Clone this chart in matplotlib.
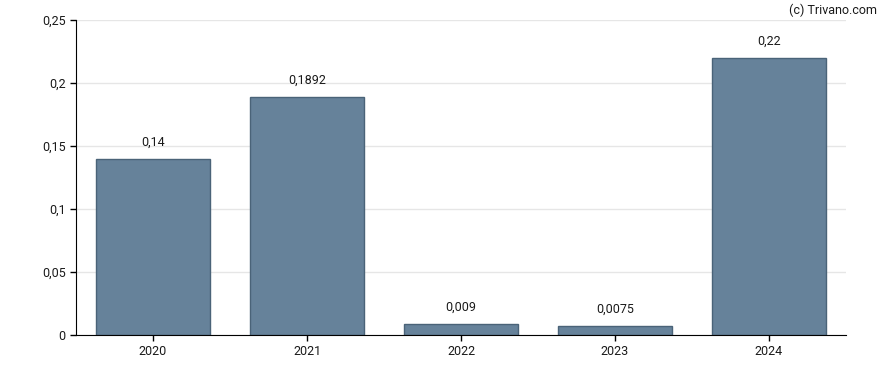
import matplotlib.pyplot as plt

plt.rcParams['font.family'] = ['Roboto', 'DejaVu Sans']

years = ['2020', '2021', '2022', '2023', '2024']
values = [0.14, 0.1892, 0.009, 0.0075, 0.22]
value_labels = ['0,14', '0,1892', '0,009', '0,0075', '0,22']
y_ticks = [0, 0.05, 0.1, 0.15, 0.2, 0.25]
y_tick_labels = ['0', '0,05', '0,1', '0,15', '0,2', '0,25']

fig = plt.figure(figsize=(8.88, 3.70), dpi=100)
ax = fig.add_axes([0.0856, 0.0946, 0.8671, 0.8514])

x = range(len(years))
ax.bar(x, values, width=0.745, color='#66829a', edgecolor='#4a6378', linewidth=1, zorder=2)

# value labels above bars
for i, (v, lab) in enumerate(zip(values, value_labels)):
    ax.annotate(lab, (i, v), xytext=(0, 7), textcoords='offset points',
                ha='center', va='bottom', fontsize=9, color='#1a1a1a')

ax.set_xlim(-0.5, 4.5)
ax.set_ylim(0, 0.25)
ax.set_xticks(list(x))
ax.set_xticklabels(years)
ax.set_yticks(y_ticks)
ax.set_yticklabels(y_tick_labels)
ax.tick_params(axis='both', labelsize=9, colors='black', labelcolor='#1a1a1a', length=4, width=1)

ax.grid(axis='y', color='#e6e6e6', linewidth=1, zorder=0)
ax.set_axisbelow(True)
for s in ['top', 'right']:
    ax.spines[s].set_visible(False)

fig.text(0.988, 0.99, '(c) Trivano.com', ha='right', va='top', fontsize=9, color='#1a1a1a')

fig.savefig('out.png', dpi=100)
